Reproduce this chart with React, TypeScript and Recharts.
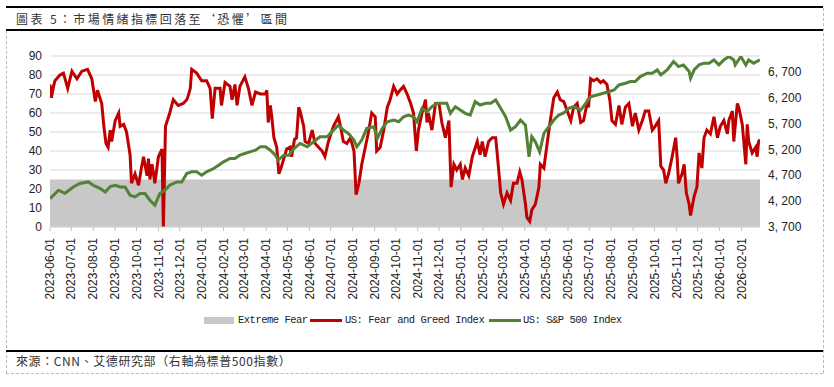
import React from "react";
import { ComposedChart, Line, XAxis, YAxis, CartesianGrid, ReferenceArea } from "recharts";

const monthTicks = [
  "2023-06-01", "2023-07-01", "2023-08-01", "2023-09-01", "2023-10-01", "2023-11-01", "2023-12-01",
  "2024-01-01", "2024-02-01", "2024-03-01", "2024-04-01", "2024-05-01", "2024-06-01", "2024-07-01",
  "2024-08-01", "2024-09-01", "2024-10-01", "2024-11-01", "2024-12-01", "2025-01-01", "2025-02-01",
  "2025-03-01", "2025-04-01", "2025-05-01", "2025-06-01", "2025-07-01", "2025-08-01", "2025-09-01",
  "2025-10-01", "2025-11-01", "2025-12-01", "2026-01-01", "2026-02-01",
];
const leftTicks = [0, 10, 20, 30, 40, 50, 60, 70, 80, 90];
const rightTicks = [3700, 4200, 4700, 5200, 5700, 6200, 6700];
const START_DATE = "2023-06-01";
const END_DATE = "2026-02-27";
const EXTREME_FEAR_TOP = 25;

// US: Fear and Greed Index (left axis)
const fearGreed: [string, number][] = [
  ["2023-06-01", 75], ["2023-06-03", 68], ["2023-06-06", 74], ["2023-06-08", 77], ["2023-06-15", 80],
  ["2023-06-20", 81], ["2023-06-26", 73], ["2023-07-02", 82], ["2023-07-09", 78], ["2023-07-16", 82],
  ["2023-07-24", 83], ["2023-07-30", 78], ["2023-08-04", 66], ["2023-08-07", 72], ["2023-08-13", 65],
  ["2023-08-16", 53], ["2023-08-19", 44], ["2023-08-22", 42], ["2023-08-25", 51], ["2023-08-27", 45],
  ["2023-09-01", 56], ["2023-09-06", 60], ["2023-09-08", 53], ["2023-09-13", 54], ["2023-09-17", 50],
  ["2023-09-22", 38], ["2023-09-24", 23], ["2023-09-29", 28], ["2023-10-04", 22], ["2023-10-08", 31],
  ["2023-10-11", 37], ["2023-10-16", 27], ["2023-10-18", 36], ["2023-10-20", 25], ["2023-10-23", 33],
  ["2023-10-27", 23], ["2023-11-01", 37], ["2023-11-06", 41], ["2023-11-08", 0], ["2023-11-11", 53],
  ["2023-11-17", 60], ["2023-11-22", 67], ["2023-11-29", 64], ["2023-12-06", 65], ["2023-12-11", 67],
  ["2023-12-13", 69], ["2023-12-16", 73], ["2023-12-18", 83], ["2023-12-25", 81], ["2024-01-01", 77],
  ["2024-01-08", 77], ["2024-01-13", 73], ["2024-01-16", 57], ["2024-01-20", 73], ["2024-01-27", 73],
  ["2024-01-29", 64], ["2024-02-03", 76], ["2024-02-10", 74], ["2024-02-13", 67], ["2024-02-17", 75],
  ["2024-02-20", 64], ["2024-02-24", 74], ["2024-03-02", 79], ["2024-03-07", 73], ["2024-03-12", 64],
  ["2024-03-17", 71], ["2024-03-24", 70], ["2024-03-31", 70], ["2024-04-02", 72], ["2024-04-04", 55],
  ["2024-04-07", 64], ["2024-04-09", 58], ["2024-04-12", 47], ["2024-04-16", 42], ["2024-04-19", 28],
  ["2024-04-22", 31], ["2024-04-26", 36], ["2024-04-30", 41], ["2024-05-05", 42], ["2024-05-07", 37],
  ["2024-05-11", 46], ["2024-05-14", 47], ["2024-05-17", 63], ["2024-05-19", 61], ["2024-05-24", 53],
  ["2024-05-26", 45], ["2024-05-31", 44], ["2024-06-05", 51], ["2024-06-09", 44], ["2024-06-14", 42],
  ["2024-06-19", 40], ["2024-06-23", 37], ["2024-06-28", 45], ["2024-07-05", 53], ["2024-07-12", 58],
  ["2024-07-15", 53], ["2024-07-19", 45], ["2024-07-24", 44], ["2024-07-29", 47], ["2024-08-03", 40],
  ["2024-08-06", 17], ["2024-08-10", 23], ["2024-08-14", 33], ["2024-08-19", 42], ["2024-08-24", 51],
  ["2024-08-28", 60], ["2024-09-02", 58], ["2024-09-04", 40], ["2024-09-09", 42], ["2024-09-14", 51],
  ["2024-09-19", 63], ["2024-09-23", 67], ["2024-09-28", 74], ["2024-10-03", 70], ["2024-10-07", 72],
  ["2024-10-12", 74], ["2024-10-17", 70], ["2024-10-22", 65], ["2024-10-26", 60], ["2024-10-30", 40],
  ["2024-11-02", 51], ["2024-11-07", 60], ["2024-11-12", 67], ["2024-11-14", 55], ["2024-11-16", 60],
  ["2024-11-21", 51], ["2024-11-26", 65], ["2024-12-01", 65], ["2024-12-05", 55], ["2024-12-10", 47],
  ["2024-12-15", 56], ["2024-12-18", 21], ["2024-12-22", 33], ["2024-12-26", 30], ["2024-12-31", 33],
  ["2025-01-03", 25], ["2025-01-07", 31], ["2025-01-12", 27], ["2025-01-17", 37], ["2025-01-24", 45],
  ["2025-01-28", 38], ["2025-01-31", 45], ["2025-02-04", 37], ["2025-02-09", 45], ["2025-02-14", 47],
  ["2025-02-19", 47], ["2025-02-23", 31], ["2025-02-26", 18], ["2025-03-02", 12], ["2025-03-07", 18],
  ["2025-03-12", 14], ["2025-03-16", 23], ["2025-03-21", 23], ["2025-03-25", 29], ["2025-03-28", 25],
  ["2025-04-02", 12], ["2025-04-04", 5], ["2025-04-08", 3], ["2025-04-11", 9], ["2025-04-16", 12],
  ["2025-04-21", 21], ["2025-04-23", 33], ["2025-04-28", 31], ["2025-05-03", 45], ["2025-05-07", 56],
  ["2025-05-12", 68], ["2025-05-17", 71], ["2025-05-21", 67], ["2025-05-26", 66], ["2025-05-31", 61],
  ["2025-06-05", 56], ["2025-06-09", 63], ["2025-06-14", 65], ["2025-06-19", 55], ["2025-06-23", 56],
  ["2025-06-28", 65], ["2025-06-30", 63], ["2025-07-03", 78], ["2025-07-07", 77], ["2025-07-12", 78],
  ["2025-07-17", 76], ["2025-07-21", 77], ["2025-07-26", 75], ["2025-07-30", 67], ["2025-08-02", 56],
  ["2025-08-07", 54], ["2025-08-12", 64], ["2025-08-16", 54], ["2025-08-21", 63], ["2025-08-26", 65],
  ["2025-08-31", 53], ["2025-09-04", 60], ["2025-09-09", 51], ["2025-09-14", 56], ["2025-09-18", 61],
  ["2025-09-23", 61], ["2025-09-28", 51], ["2025-10-02", 53], ["2025-10-07", 56], ["2025-10-10", 32],
  ["2025-10-14", 30], ["2025-10-17", 23], ["2025-10-21", 28], ["2025-10-26", 37], ["2025-10-31", 47],
  ["2025-11-02", 37], ["2025-11-04", 23], ["2025-11-09", 28], ["2025-11-12", 33], ["2025-11-15", 18],
  ["2025-11-19", 12], ["2025-11-21", 6], ["2025-11-26", 16], ["2025-11-30", 21], ["2025-12-03", 39],
  ["2025-12-07", 31], ["2025-12-10", 47], ["2025-12-14", 51], ["2025-12-19", 49], ["2025-12-24", 58],
  ["2025-12-29", 47], ["2026-01-02", 53], ["2026-01-07", 56], ["2026-01-12", 49], ["2026-01-14", 56],
  ["2026-01-19", 61], ["2026-01-21", 45], ["2026-01-26", 65], ["2026-01-28", 63], ["2026-02-02", 54],
  ["2026-02-07", 33], ["2026-02-09", 54], ["2026-02-11", 45], ["2026-02-16", 39], ["2026-02-21", 42],
  ["2026-02-23", 37], ["2026-02-25", 45], ["2026-02-27", 46],
];

// US: S&P 500 Index (right axis)
const sp500: [string, number][] = [
  ["2023-06-01", 4249], ["2023-06-13", 4409], ["2023-06-22", 4350], ["2023-07-04", 4473], ["2023-07-13", 4539],
  ["2023-07-25", 4570], ["2023-08-01", 4506], ["2023-08-11", 4442], ["2023-08-18", 4377], ["2023-08-25", 4480],
  ["2023-09-01", 4506], ["2023-09-08", 4473], ["2023-09-15", 4473], ["2023-09-22", 4312], ["2023-09-29", 4280],
  ["2023-10-06", 4345], ["2023-10-13", 4345], ["2023-10-20", 4216], ["2023-10-27", 4120], ["2023-11-03", 4345],
  ["2023-11-10", 4409], ["2023-11-17", 4506], ["2023-11-27", 4570], ["2023-12-04", 4570], ["2023-12-11", 4732],
  ["2023-12-18", 4764], ["2023-12-25", 4764], ["2024-01-01", 4700], ["2024-01-08", 4764], ["2024-01-18", 4829],
  ["2024-01-25", 4893], ["2024-02-01", 4958], ["2024-02-10", 5022], ["2024-02-17", 5022], ["2024-02-24", 5087],
  ["2024-03-02", 5119], ["2024-03-09", 5151], ["2024-03-17", 5183], ["2024-03-24", 5248], ["2024-03-31", 5248],
  ["2024-04-07", 5183], ["2024-04-14", 5087], ["2024-04-18", 4990], ["2024-04-26", 5087], ["2024-05-03", 5087],
  ["2024-05-10", 5210], ["2024-05-19", 5312], ["2024-05-29", 5248], ["2024-06-07", 5345], ["2024-06-16", 5441],
  ["2024-06-26", 5441], ["2024-07-05", 5570], ["2024-07-12", 5667], ["2024-07-19", 5570], ["2024-07-26", 5506],
  ["2024-08-03", 5377], ["2024-08-07", 5248], ["2024-08-14", 5377], ["2024-08-21", 5603], ["2024-08-31", 5635],
  ["2024-09-05", 5409], ["2024-09-12", 5603], ["2024-09-19", 5732], ["2024-09-28", 5764], ["2024-10-05", 5732],
  ["2024-10-12", 5828], ["2024-10-19", 5861], ["2024-10-26", 5828], ["2024-10-31", 5732], ["2024-11-07", 5990],
  ["2024-11-14", 5925], ["2024-11-21", 6022], ["2024-11-28", 6086], ["2024-12-05", 6086], ["2024-12-12", 6086],
  ["2024-12-17", 5893], ["2024-12-24", 6022], ["2024-12-31", 5957], ["2025-01-07", 5893], ["2025-01-14", 5861],
  ["2025-01-21", 6119], ["2025-01-28", 6054], ["2025-02-05", 6086], ["2025-02-12", 6086], ["2025-02-19", 6151],
  ["2025-02-26", 5990], ["2025-03-05", 5828], ["2025-03-12", 5570], ["2025-03-19", 5635], ["2025-03-26", 5764],
  ["2025-04-02", 5667], ["2025-04-07", 5053], ["2025-04-11", 5441], ["2025-04-16", 5345], ["2025-04-22", 5151],
  ["2025-04-28", 5506], ["2025-05-05", 5635], ["2025-05-12", 5764], ["2025-05-19", 5860], ["2025-05-26", 5900],
  ["2025-06-02", 5990], ["2025-06-09", 6022], ["2025-06-19", 5957], ["2025-06-26", 6086], ["2025-07-03", 6215],
  ["2025-07-12", 6248], ["2025-07-21", 6280], ["2025-07-29", 6312], ["2025-08-05", 6345], ["2025-08-12", 6441],
  ["2025-08-21", 6474], ["2025-08-28", 6506], ["2025-09-04", 6506], ["2025-09-11", 6603], ["2025-09-21", 6667],
  ["2025-09-28", 6667], ["2025-10-05", 6732], ["2025-10-10", 6635], ["2025-10-19", 6732], ["2025-10-28", 6893],
  ["2025-11-04", 6796], ["2025-11-11", 6828], ["2025-11-19", 6700], ["2025-11-21", 6570], ["2025-11-26", 6732],
  ["2025-12-03", 6828], ["2025-12-10", 6861], ["2025-12-17", 6861], ["2025-12-24", 6925], ["2025-12-31", 6828],
  ["2026-01-07", 6925], ["2026-01-14", 6990], ["2026-01-21", 6925], ["2026-01-23", 6828], ["2026-01-31", 6990],
  ["2026-02-07", 6828], ["2026-02-11", 6925], ["2026-02-18", 6861], ["2026-02-27", 6925],
];

const toDay = (s: string) => {
  const [y, m, d] = s.split("-").map(Number);
  const [y0, m0, d0] = START_DATE.split("-").map(Number);
  return Math.round((Date.UTC(y, m - 1, d) - Date.UTC(y0, m0 - 1, d0)) / 86400000);
};

const rowMap = new Map<number, { t: number; fg?: number; sp?: number }>();
fearGreed.forEach(([d, v]) => {
  const t = toDay(d);
  rowMap.set(t, { ...(rowMap.get(t) || { t }), fg: v });
});
sp500.forEach(([d, v]) => {
  const t = toDay(d);
  rowMap.set(t, { ...(rowMap.get(t) || { t }), sp: v });
});
const rows = Array.from(rowMap.values()).sort((a, b) => a.t - b.t);

const tickDays = monthTicks.map(toDay);
const tickLabel = new Map(monthTicks.map((s) => [toDay(s), s]));

const AXIS_FONT = "'Liberation Sans', Arial, sans-serif";
const CJK_FONT = "'Noto Sans CJK TC', 'Noto Sans CJK SC', sans-serif";
const LEGEND_FONT = "'Liberation Mono', 'DejaVu Sans Mono', monospace";

function DateTick({ x, y, payload }: any) {
  const yy = y + 5;
  return (
    <text
      x={x}
      y={yy}
      dy="0.35em"
      transform={`rotate(-90 ${x} ${yy})`}
      textAnchor="end"
      fontSize={12}
      fontFamily={AXIS_FONT}
      fill="#222"
    >
      {tickLabel.get(payload.value)}
    </text>
  );
}

const fmtRight = (v: number) => v.toLocaleString("en-US").replace(",", ", ");

export default function App() {
  return (
    <div style={{ position: "absolute", left: 0, top: 0, width: 834, height: 387, background: "#fff", overflow: "hidden" }}>
      {/* frame */}
      <div style={{ position: "absolute", left: 6, top: 6, width: 817, height: 0, borderTop: "2px solid #000" }} />
      <div style={{ position: "absolute", left: 6, top: 29, width: 817, height: 0, borderTop: "2px solid #000" }} />
      <div style={{ position: "absolute", left: 6, top: 31, width: 0, height: 342, borderLeft: "1px dashed #bbb" }} />
      <div style={{ position: "absolute", left: 823, top: 8, width: 0, height: 365, borderLeft: "1px dashed #bbb" }} />
      <div style={{ position: "absolute", left: 6, top: 373, width: 817, height: 0, borderTop: "1px dashed #bbb" }} />
      <div style={{ position: "absolute", left: 6, top: 350, width: 817, height: 0, borderTop: "2px solid #000" }} />

      <div
        style={{
          position: "absolute", left: 16, top: 10, fontFamily: CJK_FONT, fontSize: 12,
          letterSpacing: 2.4, color: "#333", lineHeight: "18px", whiteSpace: "nowrap",
        }}
      >
        圖表 5：市場情緒指標回落至‘恐懼’區間
      </div>

      <div style={{ position: "absolute", left: 0, top: 0 }}>
        <ComposedChart width={834} height={305} data={rows} margin={{ top: 56, right: 14, bottom: 0, left: 10 }}>
          <CartesianGrid yAxisId="left" vertical={false} stroke="#d9d9d9" strokeWidth={1} />
          <XAxis
            dataKey="t"
            type="number"
            domain={[0, toDay(END_DATE)]}
            ticks={tickDays}
            interval={0}
            height={78}
            tickSize={4}
            tick={<DateTick />}
            axisLine={{ stroke: "#d9d9d9" }}
            tickLine={{ stroke: "#bfbfbf" }}
            allowDataOverflow
          />
          <YAxis
            yAxisId="left"
            domain={[0, 90]}
            ticks={leftTicks}
            interval={0}
            width={40}
            axisLine={false}
            tickLine={false}
            tick={{ fontSize: 12, fill: "#222", fontFamily: AXIS_FONT }}
          />
          <YAxis
            yAxisId="right"
            orientation="right"
            domain={[3700, 7000]}
            ticks={rightTicks}
            interval={0}
            width={60}
            axisLine={false}
            tickLine={false}
            tickFormatter={fmtRight}
            tick={{ fontSize: 12, fill: "#222", fontFamily: AXIS_FONT, textAnchor: "start" }}
            allowDataOverflow
          />
          <ReferenceArea yAxisId="left" y1={0} y2={EXTREME_FEAR_TOP} fill="#c8c8c8" fillOpacity={1} stroke="none" />
          <Line
            yAxisId="left"
            type="linear"
            dataKey="fg"
            stroke="#c00000"
            strokeWidth={3}
            dot={false}
            activeDot={false}
            connectNulls
            isAnimationActive={false}
          />
          <Line
            yAxisId="right"
            type="linear"
            dataKey="sp"
            stroke="#538135"
            strokeWidth={3}
            dot={false}
            activeDot={false}
            connectNulls
            isAnimationActive={false}
          />
        </ComposedChart>
      </div>

      {/* legend */}
      <div style={{ position: "absolute", left: 204, top: 317, width: 30, height: 7, background: "#c8c8c8" }} />
      <div style={{ position: "absolute", left: 310, top: 319, width: 32, height: 3, background: "#c00000" }} />
      <div style={{ position: "absolute", left: 489, top: 319, width: 32, height: 3, background: "#538135" }} />
      {[
        { left: 238, text: "Extreme Fear" },
        { left: 345, text: "US: Fear and Greed Index" },
        { left: 523, text: "US: S&P 500 Index" },
      ].map((l) => (
        <div
          key={l.text}
          style={{
            position: "absolute", left: l.left, top: 313, fontFamily: LEGEND_FONT, fontSize: 10.5,
            letterSpacing: -0.5, color: "#222", lineHeight: "14px", whiteSpace: "nowrap",
          }}
        >
          {l.text}
        </div>
      ))}

      <div
        style={{
          position: "absolute", left: 16, top: 352, fontFamily: CJK_FONT, fontSize: 12,
          letterSpacing: 0.6, color: "#333", lineHeight: "18px", whiteSpace: "nowrap",
        }}
      >
        來源：CNN、艾德研究部（右軸為標普500指數）
      </div>
    </div>
  );
}
